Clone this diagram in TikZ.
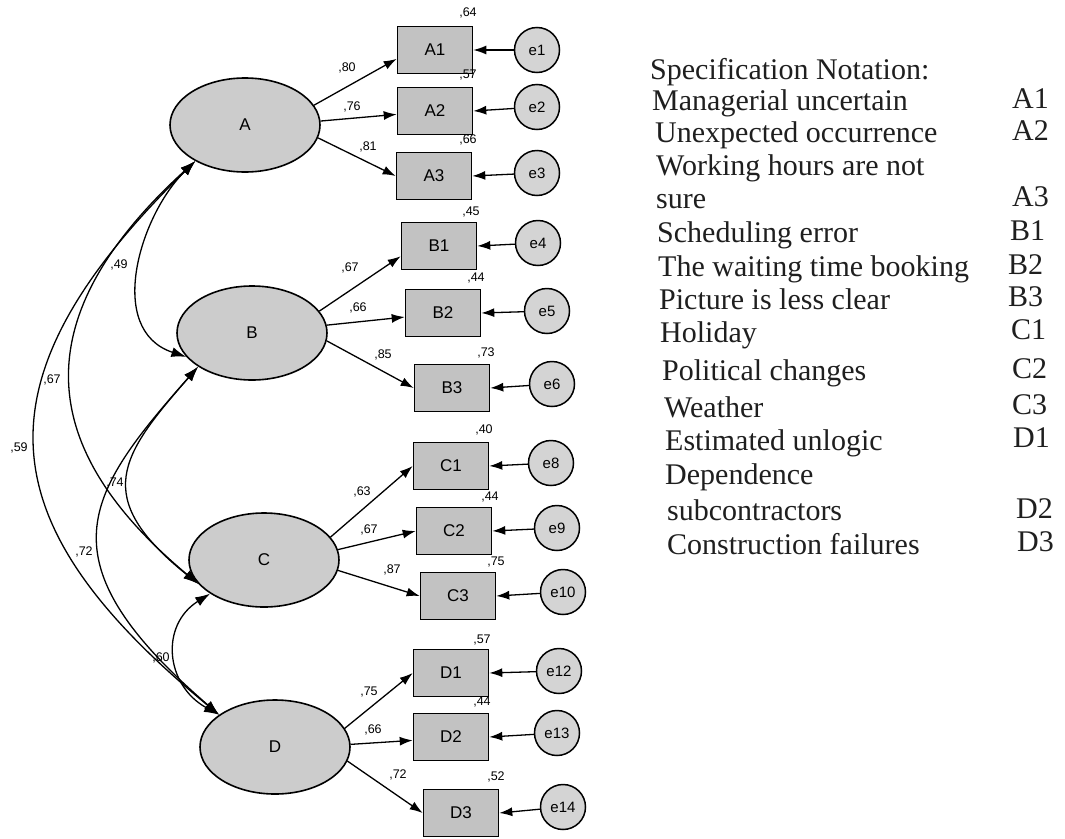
\documentclass[tikz,border=0pt]{standalone}
\usepackage{fontspec}
\setmainfont{Liberation Serif}
\newfontfamily\arialf{Liberation Sans}
\usetikzlibrary{arrows.meta,shapes.geometric}
\begin{document}
\begin{tikzpicture}[x=1pt,y=-1pt,
 lat/.style={ellipse,draw,line width=1.6pt,fill=black!20,minimum width=150pt,minimum height=94pt,inner sep=0pt,font=\arialf\fontsize{17}{17}\selectfont},
 obs/.style={rectangle,draw,line width=1.6pt,fill=black!24,minimum width=75pt,minimum height=47pt,inner sep=0pt,font=\arialf\fontsize{17}{17}\selectfont},
 err/.style={circle,draw,line width=1.5pt,fill=black!17,minimum size=45pt,inner sep=0pt,font=\arialf\fontsize{15}{15}\selectfont},
 coef/.style={font=\arialf\fontsize{12.5}{12.5}\selectfont,inner sep=0pt},
 load/.style={-{Latex[length=13pt,width=9pt]},line width=1.3pt},
 cov/.style={{Latex[length=15pt,width=10pt]}-{Latex[length=15pt,width=10pt]},line width=1.3pt},
 txt/.style={anchor=base west,inner sep=0pt,text=black!88,font=\fontsize{30}{30}\selectfont},
]
\useasboundingbox (0,0) rectangle (1065,838);
\fill[white] (0,0) rectangle (1065,838);

% latent variables
\node[lat] (A) at (245,125) {A};
\node[lat] (B) at (252,333) {B};
\node[lat] (C) at (264,560) {C};
\node[lat] (D) at (275,747) {D};

% observed variables
\node[obs] (A1) at (435,50) {A1};
\node[obs] (A2) at (435,111) {A2};
\node[obs] (A3) at (434,176) {A3};
\node[obs] (B1) at (439,246) {B1};
\node[obs] (B2) at (443,313) {B2};
\node[obs] (B3) at (452,388) {B3};
\node[obs] (C1) at (451,466) {C1};
\node[obs] (C2) at (454,531) {C2};
\node[obs] (C3) at (458,596) {C3};
\node[obs] (D1) at (451,673) {D1};
\node[obs] (D2) at (451,737) {D2};
\node[obs] (D3) at (461,813) {D3};

% error terms
\node[err] (e1) at (537,50) {e1};
\node[err] (e2) at (537,107) {e2};
\node[err] (e3) at (537,173) {e3};
\node[err] (e4) at (538,243) {e4};
\node[err] (e5) at (547,311) {e5};
\node[err] (e6) at (552,384) {e6};
\node[err] (e8) at (551,463) {e8};
\node[err] (e9) at (557,528) {e9};
\node[err] (e10) at (563,592) {e10};
\node[err] (e12) at (559,671) {e12};
\node[err] (e13) at (557,733) {e13};
\node[err] (e14) at (563,807) {e14};

% loadings
\draw[load] (A.16) -- (A1.193);
\draw[load] (A.3) -- (A2.185);
\draw[load] (A.-10) -- (A3.west);
\draw[load] (B.18) -- (B1.195);
\draw[load] (B.6) -- (B2.186);
\draw[load] (B.-6) -- (B3.west);
\draw[load] (C.19) -- (C1.west);
\draw[load] (C.8) -- (C2.west);
\draw[load] (C.-8) -- (C3.west);
\draw[load] (D.15) -- (D1.west);
\draw[load] (D.2) -- (D2.185);
\draw[load] (D.-11) -- (D3.west);

% error arrows
\foreach \e/\o in {e1/A1,e2/A2,e3/A3,e4/B1,e5/B2,e6/B3,e8/C1,e9/C2,e10/C3,e12/D1,e13/D2,e14/D3}
  \draw[load] (\e) -- (\o.east);

% covariances
\draw[cov] (A.216) .. controls (140,215) and (105,330) .. (B.200);
\draw[cov] (A.216) .. controls (10,330) and (50,460) .. (C.200);
\draw[cov] (A.216) .. controls (-31,383) and (-11,525) .. (D.150);
\draw[cov] (B.212) .. controls (121,455) and (90,497) .. (C.200);
\draw[cov] (B.212) .. controls (85,495) and (40,560) .. (D.150);
\draw[cov] (C.212) .. controls (160,625) and (165,685) .. (D.150);

% loading coefficients
\node[coef] (l1) at (347,68) {,80};
\node[coef] (l2) at (352,107) {,76};
\node[coef] (l3) at (368,147) {,81};
\node[coef] (l4) at (350,268) {,67};
\node[coef] (l5) at (358,308) {,66};
\node[coef] (l6) at (383,355) {,85};
\node[coef] (l7) at (362,492) {,63};
\node[coef] (l8) at (369,530) {,67};
\node[coef] (l9) at (392,570) {,87};
\node[coef] (l10) at (369,692) {,75};
\node[coef] (l11) at (373,730) {,66};
\node[coef] (l12) at (398,775) {,72};

% squared multiple correlations
\node[coef] (r1) at (468,13) {,64};
\node[coef] (r2) at (468,75) {,57};
\node[coef] (r3) at (468,140) {,66};
\node[coef] (r4) at (471,212) {,45};
\node[coef] (r5) at (476,278) {,44};
\node[coef] (r6) at (486,353) {,73};
\node[coef] (r7) at (484,430) {,40};
\node[coef] (r8) at (490,497) {,44};
\node[coef] (r9) at (496,562) {,75};
\node[coef] (r10) at (482,640) {,57};
\node[coef] (r11) at (482,702) {,44};
\node[coef] (r12) at (496,777) {,52};

% covariance coefficients
\node[coef] (k1) at (119,265) {,49};
\node[coef] (k2) at (52,380) {,67};
\node[coef] (k3) at (19,448) {,59};
\node[coef] (k4) at (115,483) {,74};
\node[coef] (k5) at (84,552) {,72};
\node[coef] (k6) at (161,658) {,60};

% notation list
\node[txt] (t0) at (650,79) {Specification Notation:};
\node[txt] (t1) at (652,110) {Managerial uncertain};
\node[txt] (t2) at (655,142) {Unexpected occurrence};
\node[txt] (t3) at (656,175) {Working hours are not};
\node[txt] (t4) at (656,208) {sure};
\node[txt] (t5) at (657,242) {Scheduling error};
\node[txt] (t6) at (658,276) {The waiting time booking};
\node[txt] (t7) at (659,309) {Picture is less clear};
\node[txt] (t8) at (660,342) {Holiday};
\node[txt] (t9) at (662,380) {Political changes};
\node[txt] (t10) at (664,417) {Weather};
\node[txt] (t11) at (665,450) {Estimated unlogic};
\node[txt] (t12) at (665,484) {Dependence};
\node[txt] (t13) at (667,520) {subcontractors};
\node[txt] (t14) at (667,554) {Construction failures};

\node[txt] (c1) at (1012,108) {A1};
\node[txt] (c2) at (1012,140) {A2};
\node[txt] (c3) at (1012,206) {A3};
\node[txt] (c4) at (1010,240) {B1};
\node[txt] (c5) at (1008,274) {B2};
\node[txt] (c6) at (1008,306) {B3};
\node[txt] (c7) at (1011,339) {C1};
\node[txt] (c8) at (1012,378) {C2};
\node[txt] (c9) at (1012,414) {C3};
\node[txt] (c10) at (1013,447) {D1};
\node[txt] (c11) at (1016,518) {D2};
\node[txt] (c12) at (1017,551) {D3};
\end{tikzpicture}
\end{document}
